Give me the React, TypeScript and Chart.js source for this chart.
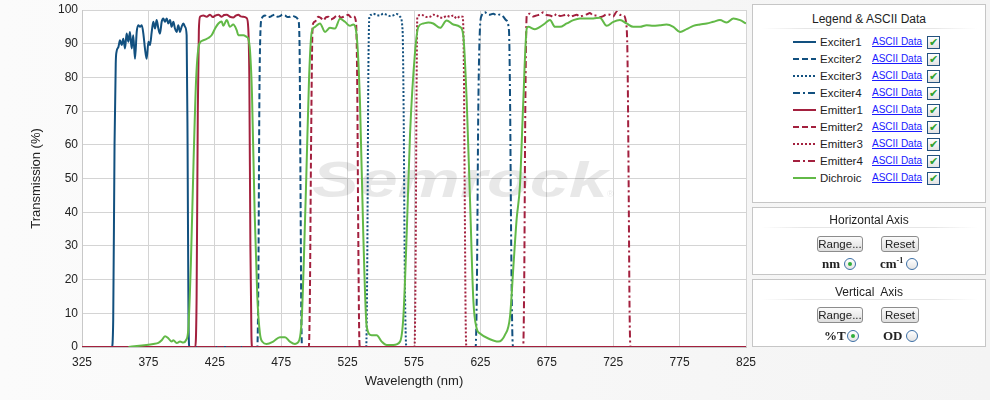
import React, { useEffect, useRef } from 'react';
import { Chart, registerables } from 'chart.js';

Chart.register(...registerables);

const FONT = '"Liberation Sans", Arial, sans-serif';
const BLUE = '#12507f';
const RED = '#a3203e';
const GREEN = '#62b947';

const xTicks = [325, 375, 425, 475, 525, 575, 625, 675, 725, 775, 825];
const yTicks = [0, 10, 20, 30, 40, 50, 60, 70, 80, 90, 100];

// [wavelength nm, transmission %]
const exciter1: [number, number][] = [
  [325, 0], [347.5, 0], [348.5, 8], [349.5, 60], [350.4, 84], [351, 87.6], [352.4, 89], [353.6, 91], [354.9, 89.6],
  [356.1, 91.5], [357.4, 88.6], [358.6, 93], [359.9, 90.6], [361.1, 93.5], [362.4, 88.6], [363.6, 92.5], [364.9, 85.5],
  [366.2, 93.5], [367.4, 95.5], [368.7, 95], [370, 95.5], [371.2, 93], [372.4, 88.6], [373.7, 85.5], [375, 90.6],
  [376.2, 89.6], [377.5, 93.5], [378.7, 96.5], [380, 94.5], [381.2, 97], [382.5, 94.5], [383.7, 93], [385, 96.5],
  [386.2, 97.5], [387.5, 96.5], [388.8, 97.5], [390, 96], [391.3, 97], [392.5, 95], [393.8, 96.5], [395, 94.5],
  [396.3, 93.5], [397.5, 95.5], [398.8, 93.5], [400, 95], [401.3, 96], [402.6, 95], [403.8, 92.5], [404.5, 60],
  [405.2, 8], [405.9, 0], [825, 0],
];

const exciter2: [number, number][] = [
  [325, 0], [457, 0], [457.8, 20], [458.6, 75], [459.4, 94], [460.3, 97.4], [462.8, 98.4], [464.7, 97.9], [466.6, 98],
  [468.5, 98.4], [470.3, 98.6], [472.2, 98], [474.1, 98.2], [476, 98.6], [477.9, 98.4], [479.8, 97.9], [481.6, 98],
  [483.5, 98.3], [485.4, 98], [487.9, 97], [488.8, 90], [489.5, 50], [490.1, 12], [490.7, 0], [825, 0],
];

const exciter3: [number, number][] = [
  [325, 0], [539, 0], [539.8, 25], [540.6, 80], [541.4, 98], [542.9, 98.6], [544.4, 98.9], [546.9, 98.5], [549.4, 98.4],
  [551.9, 98.9], [554.4, 98.6], [556.9, 98.2], [559.4, 98.4], [562, 98.8], [564.5, 98], [566.4, 94], [567.2, 70],
  [568, 25], [568.8, 3], [569.4, 0], [825, 0],
];

const exciter4: [number, number][] = [
  [325, 0], [621.4, 0], [622.4, 20], [623.4, 70], [624.5, 93], [626, 98.4], [628.5, 99.3], [630.3, 98.7], [632.2, 98.6],
  [634.7, 98.9], [637.3, 98.4], [639.8, 98.7], [642.3, 98], [644.3, 97], [646.5, 94], [647.3, 75], [648.2, 30],
  [649, 5], [649.6, 0], [825, 0],
];

const emitter1: [number, number][] = [
  [325, 0], [410.3, 0], [411.3, 15], [412.2, 70], [413, 94], [413.9, 98], [416.4, 98.4], [418.9, 98], [421.4, 98.6],
  [423.5, 97.9], [425.2, 98.3], [427.7, 98.6], [430.2, 98], [432, 98.5], [434, 98.6], [436.4, 98], [438.9, 97.8],
  [440.8, 98.3], [442.7, 98.6], [444.5, 98.1], [446.5, 98], [449, 97.6], [450.2, 94.6], [451, 80], [451.8, 30],
  [452.6, 3], [453.2, 0], [825, 0],
];

const emitter2: [number, number][] = [
  [325, 0], [495.8, 0], [496.6, 15], [497.5, 60], [498.7, 95.5], [500.5, 96.6], [503, 98], [505, 97.6], [506.7, 96.9],
  [508.6, 97.8], [510.5, 98], [512.4, 97.2], [514.2, 97.5], [516, 98.1], [518, 98.4], [520, 97.7], [521.8, 98],
  [523.6, 98.3], [525.5, 98.6], [527.4, 97.9], [529.3, 98.2], [531.3, 96.5], [532.2, 80], [533, 35], [533.7, 5],
  [534.3, 0], [825, 0],
];

const emitter3: [number, number][] = [
  [325, 0], [575.4, 0], [576.2, 25], [576.9, 75], [577.5, 98], [579.8, 98.5], [582, 98.4], [584.5, 97.9], [587, 98],
  [589.5, 98.6], [592, 98.4], [594.5, 97.8], [597, 97.7], [599.5, 98.3], [602.1, 98], [604.6, 98.4], [607.1, 97.5],
  [609.5, 98.1], [611.7, 98], [612.5, 85], [613.2, 45], [613.9, 8], [614.5, 0], [825, 0],
];

const emitter4: [number, number][] = [
  [325, 0], [657.2, 0], [658, 20], [658.8, 70], [659.9, 98.4], [662.3, 98.9], [664.8, 98.1], [667.4, 98.4], [670, 98.7],
  [672.4, 99.3], [675, 98.5], [677.4, 98.4], [680, 98], [682.5, 98.9], [685, 98.2], [687.5, 98.4], [690, 98.8],
  [692.5, 98], [695, 98.3], [697.5, 98.6], [700, 98], [702.5, 98.4], [705, 98.7], [707.5, 99.1], [710, 98.3],
  [712.5, 98.4], [715, 97.9], [717.5, 98.2], [720, 98.7], [722.6, 98.6], [725, 98.1], [727.6, 99.5], [730, 98.6],
  [732.6, 98.4], [734.6, 96.5], [735.8, 85], [736.6, 50], [737.3, 12], [738, 0], [825, 0],
];

const dichroic: [number, number][] = [
  [360, 0], [378.7, 0.9], [382.5, 1.2], [385, 2], [387.5, 3.2], [390, 2.6], [392.5, 1.6], [393.8, 2], [396.3, 1.2],
  [398.8, 1.6], [401.3, 1.3], [403.3, 2], [405, 5], [407, 25], [409, 55], [411, 80], [413.4, 90], [416.4, 91],
  [420.1, 91.7], [422.6, 92.5], [425.2, 94.5], [427.7, 96], [430.2, 96.6], [431.4, 95.3], [434, 97], [436.4, 95],
  [438.9, 95.7], [441.5, 94], [442.7, 92.5], [446.5, 92.5], [449, 92], [450.2, 91.5], [451.5, 88], [453, 75],
  [455, 40], [457, 15], [459, 4], [461, 1.5], [464, 0.9], [469, 1.6], [474, 2.9], [477.9, 2.9], [481.6, 1.6],
  [485.4, 0.9], [488.6, 2], [490.4, 8], [492, 25], [494, 52], [496, 80], [498, 93.5], [500.5, 95], [504.2, 96],
  [508, 93.5], [511.7, 94.7], [515.5, 94.5], [519.3, 97.4], [523, 96.5], [526.8, 95.3], [529.3, 95.7], [531.8, 92.5],
  [534.3, 72.9], [536.8, 33.6], [539.4, 6], [543.1, 3.5], [546.9, 3.5], [550.7, 1.6], [554.4, 0.6], [559.4, 0.6],
  [564.5, 1.6], [567, 9], [569.5, 33.6], [572, 63], [575.8, 87.6], [578.3, 95], [582, 96], [585.8, 96.3],
  [589.5, 96], [594.6, 94.7], [599.6, 96.9], [604.6, 95.7], [609.6, 95], [612.1, 92.5], [614.7, 72.9],
  [617.2, 43.3], [619.7, 13.8], [622.2, 5.5], [624.7, 4], [632.2, 2.3], [638.5, 1.6], [643.5, 3.6], [647.3, 9],
  [649.8, 23.6], [652.3, 38], [654.8, 48], [657.3, 73], [659.9, 94.5], [661, 95], [666.1, 94.3], [669.9, 95],
  [673.6, 96], [677.4, 97], [681.2, 95], [684.9, 95], [690, 96], [695, 97], [700, 97.5], [705, 97.5], [710, 97.5],
  [715, 97.7], [720.1, 95.3], [725.1, 96.5], [730.1, 97], [735.1, 96], [740.1, 95], [745.2, 95], [750.2, 95.5],
  [755.2, 95.3], [760.2, 95.5], [765.2, 95.7], [770.3, 95], [775.3, 93.5], [780.3, 94.3], [785.3, 95.3],
  [790.4, 95.7], [795.4, 96], [800.4, 96.5], [805.4, 97], [810.5, 96.3], [815.5, 97.5], [820.5, 97], [825, 96],
];

const DASH_SOLID: number[] = [];
const DASH_DASHED = [6, 3];
const DASH_DOTTED = [2, 2];
const DASH_DASHDOT = [7, 3, 2, 3];

const seriesList = [
  { name: 'Exciter1', data: exciter1, color: BLUE, dash: DASH_SOLID, order: 5 },
  { name: 'Exciter2', data: exciter2, color: BLUE, dash: DASH_DASHED, order: 5 },
  { name: 'Exciter3', data: exciter3, color: BLUE, dash: DASH_DOTTED, order: 5 },
  { name: 'Exciter4', data: exciter4, color: BLUE, dash: DASH_DASHDOT, order: 5 },
  { name: 'Emitter1', data: emitter1, color: RED, dash: DASH_SOLID, order: 4 },
  { name: 'Emitter2', data: emitter2, color: RED, dash: DASH_DASHED, order: 3 },
  { name: 'Emitter3', data: emitter3, color: RED, dash: DASH_DOTTED, order: 3 },
  { name: 'Emitter4', data: emitter4, color: RED, dash: DASH_DASHDOT, order: 1 },
  { name: 'Dichroic', data: dichroic, color: GREEN, dash: DASH_SOLID, order: 0 },
];

const plotBg = {
  id: 'plotBg',
  beforeDraw(chart: any) {
    const { ctx, chartArea: a } = chart;
    ctx.save();
    ctx.fillStyle = '#ffffff';
    ctx.fillRect(a.left, a.top, a.right - a.left, a.bottom - a.top);
    ctx.restore();
  },
  beforeDatasetsDraw(chart: any) {
    const { ctx, chartArea: a } = chart;
    ctx.save();
    ctx.beginPath();
    ctx.rect(a.left, a.top, a.right - a.left, a.bottom - a.top);
    ctx.clip();
    ctx.translate(312, 197);
    ctx.scale(1.4, 1);
    ctx.font = 'italic bold 50px "Liberation Sans", Arial, sans-serif';
    ctx.fillStyle = 'rgba(0,0,0,0.09)';
    ctx.textBaseline = 'alphabetic';
    ctx.fillText('Semrock', 0, 0);
    ctx.restore();
    ctx.save();
    ctx.font = '9px "Liberation Sans", Arial, sans-serif';
    ctx.fillStyle = 'rgba(0,0,0,0.09)';
    ctx.fillText('®', 607, 197);
    ctx.restore();
  },
};

function ChartCanvas() {
  const ref = useRef<HTMLCanvasElement | null>(null);
  useEffect(() => {
    if (!ref.current) return;
    const chart = new Chart(ref.current, {
      type: 'line',
      data: {
        datasets: seriesList.map((s) => ({
          label: s.name,
          data: s.data.map(([x, y]) => ({ x, y })),
          borderColor: s.color,
          backgroundColor: s.color,
          borderWidth: 2,
          borderDash: s.dash,
          pointRadius: 0,
          fill: false,
          cubicInterpolationMode: 'monotone',
          order: s.order,
        })),
      },
      options: {
        responsive: false,
        animation: false,
        events: [],
        layout: { padding: { left: 0, top: 10, right: 24, bottom: 0 } },
        plugins: { legend: { display: false }, tooltip: { enabled: false } },
        scales: {
          x: {
            type: 'linear',
            min: 325,
            max: 825,
            afterBuildTicks: (s: any) => {
              s.ticks = xTicks.map((v) => ({ value: v }));
            },
            afterFit: (s: any) => {
              s.height = 53;
            },
            ticks: { autoSkip: false, maxRotation: 0, padding: 8, color: '#222', font: { family: FONT, size: 12 } },
            grid: { color: '#d4d4d4', drawTicks: false },
            border: { color: '#c8c8c8' },
            title: {
              display: true,
              text: 'Wavelength (nm)',
              color: '#222',
              font: { family: FONT, size: 13 },
              padding: { top: 0, bottom: 11 },
            },
          },
          y: {
            type: 'linear',
            min: 0,
            max: 100,
            afterBuildTicks: (s: any) => {
              s.ticks = yTicks.map((v) => ({ value: v }));
            },
            afterFit: (s: any) => {
              s.width = 82;
              s.paddingTop = 0;
              s.paddingBottom = 0;
            },
            ticks: { padding: 4, color: '#222', font: { family: FONT, size: 12 } },
            grid: { color: '#d4d4d4', drawTicks: false },
            border: { color: '#c8c8c8' },
            title: {
              display: true,
              text: 'Transmission (%)',
              color: '#222',
              font: { family: FONT, size: 13 },
              padding: { top: 29, bottom: 0 },
            },
          },
        },
      },
      plugins: [plotBg],
    } as any);
    return () => chart.destroy();
  }, []);
  return <canvas ref={ref} width={770} height={400} style={{ width: 770, height: 400, display: 'block' }} />;
}

const panelStyle: React.CSSProperties = {
  position: 'absolute',
  left: 752,
  width: 234,
  boxSizing: 'border-box',
  background: '#ffffff',
  border: '1px solid #c6c6c6',
};

const titleStyle = (top: number): React.CSSProperties => ({
  position: 'absolute',
  left: 0,
  right: 0,
  top,
  textAlign: 'center',
  fontSize: 12,
  color: '#1e1e1e',
  lineHeight: '14px',
});

const sepStyle = (top: number): React.CSSProperties => ({
  position: 'absolute',
  left: 8,
  right: 8,
  top,
  height: 1,
  background: 'linear-gradient(to right, rgba(225,225,225,0), #e6e6e6 20%, #e6e6e6 80%, rgba(225,225,225,0))',
});

function Button({ left, top, width, text }: { left: number; top: number; width: number; text: string }) {
  return (
    <div
      style={{
        position: 'absolute',
        left,
        top,
        width,
        height: 16,
        boxSizing: 'border-box',
        border: '1px solid #8c8c8c',
        borderRadius: 3,
        background: 'linear-gradient(#fbfbfb, #dedede)',
        fontSize: 11.5,
        lineHeight: '14px',
        textAlign: 'center',
        color: '#222',
      }}
    >
      {text}
    </div>
  );
}

function Radio({ left, top, on }: { left: number; top: number; on: boolean }) {
  return (
    <div
      style={{
        position: 'absolute',
        left,
        top,
        width: 12,
        height: 12,
        boxSizing: 'border-box',
        borderRadius: '50%',
        border: '1px solid #3b6ea5',
        background: 'linear-gradient(#ffffff, #e4e4e4)',
      }}
    >
      {on && (
        <div
          style={{
            position: 'absolute',
            left: 3,
            top: 3,
            width: 4,
            height: 4,
            borderRadius: '50%',
            background: '#2fae3a',
          }}
        />
      )}
    </div>
  );
}

const radioLabel = (left: number, top: number): React.CSSProperties => ({
  position: 'absolute',
  left,
  top,
  fontFamily: '"Liberation Serif", "Times New Roman", serif',
  fontWeight: 'bold',
  fontSize: 13,
  lineHeight: '14px',
  color: '#222',
});

function Legend() {
  return (
    <div style={{ ...panelStyle, top: 4, height: 199 }}>
      <div style={titleStyle(7)}>Legend &amp; ASCII Data</div>
      <div style={sepStyle(23)} />
      {seriesList.map((s, i) => {
        const cy = 37 + 17 * i;
        return (
          <React.Fragment key={s.name}>
            <svg style={{ position: 'absolute', left: 40, top: cy - 2 }} width={23} height={4}>
              <line x1={0} y1={2} x2={23} y2={2} stroke={s.color} strokeWidth={2} strokeDasharray={s.dash.length ? s.dash.join(',') : undefined} />
            </svg>
            <div style={{ position: 'absolute', left: 67, top: cy - 7, fontSize: 11.5, lineHeight: '14px', color: '#1e1e1e' }}>
              {s.name}
            </div>
            <div
              style={{
                position: 'absolute',
                left: 119,
                top: cy - 6,
                fontSize: 10,
                lineHeight: '12px',
                color: '#1a1aff',
                textDecoration: 'underline',
              }}
            >
              ASCII Data
            </div>
            <div
              style={{
                position: 'absolute',
                left: 174,
                top: cy - 6,
                width: 13,
                height: 13,
                boxSizing: 'border-box',
                border: '1px solid #24527e',
                background: 'linear-gradient(#ffffff, #e2e2e2)',
                color: '#2ea12e',
                fontSize: 11,
                lineHeight: '11px',
                textAlign: 'center',
                fontFamily: '"DejaVu Sans", sans-serif',
              }}
            >
              ✔
            </div>
          </React.Fragment>
        );
      })}
    </div>
  );
}

function HorizontalPanel() {
  return (
    <div style={{ ...panelStyle, top: 207, height: 68 }}>
      <div style={titleStyle(5)}>Horizontal Axis</div>
      <div style={sepStyle(19)} />
      <Button left={64} top={28} width={46} text="Range..." />
      <Button left={128} top={28} width={38} text="Reset" />
      <div style={radioLabel(69, 49)}>nm</div>
      <Radio left={91} top={50} on={true} />
      <div style={radioLabel(127, 49)}>
        cm<sup style={{ fontSize: 8, verticalAlign: 'top', lineHeight: '8px' }}>-1</sup>
      </div>
      <Radio left={153} top={50} on={false} />
    </div>
  );
}

function VerticalPanel() {
  return (
    <div style={{ ...panelStyle, top: 279, height: 68 }}>
      <div style={titleStyle(5)}>Vertical&nbsp; Axis</div>
      <div style={sepStyle(19)} />
      <Button left={64} top={27} width={46} text="Range..." />
      <Button left={128} top={27} width={38} text="Reset" />
      <div style={radioLabel(71, 49)}>%T</div>
      <Radio left={94} top={50} on={true} />
      <div style={radioLabel(130, 49)}>OD</div>
      <Radio left={153} top={50} on={false} />
    </div>
  );
}

export default function App() {
  return (
    <div
      style={{
        position: 'absolute',
        left: 0,
        top: 0,
        width: 990,
        height: 400,
        overflow: 'hidden',
        background: 'linear-gradient(to right, #fbfbfb, #f4f4f4)',
        fontFamily: FONT,
      }}
    >
      <div style={{ position: 'absolute', left: 0, top: 0 }}>
        <ChartCanvas />
      </div>
      <Legend />
      <HorizontalPanel />
      <VerticalPanel />
    </div>
  );
}
